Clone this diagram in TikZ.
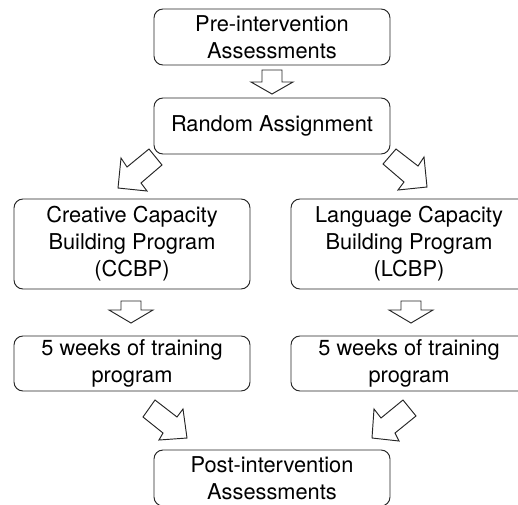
\documentclass[tikz,border=0pt]{standalone}
\usepackage{fontspec}
\setmainfont{TeX Gyre Heros}
\begin{document}
\begin{tikzpicture}[x=1pt,y=-1pt,
  box/.style={draw=black!85, line width=0.95pt, rounded corners=9pt, minimum width=236pt,
    align=center, inner sep=0pt, font=\fontsize{21.8}{27}\selectfont},
  barrow/.style={draw=black!85, line width=0.95pt, fill=white, line join=miter}]
\useasboundingbox (0,0) rectangle (518,504);
\clip (0,0) rectangle (518,504);
\node[box, minimum height=56pt] (pre) at (272,37) {Pre-intervention\\Assessments};
\node[box, minimum height=56pt] (rand) at (272,126) {Random Assignment};
\node[box, minimum height=90pt] (ccbp) at (132,244) {Creative Capacity\\Building Program\\(CCBP)};
\node[box, minimum height=90pt] (lcbp) at (409,244) {Language Capacity\\Building Program\\(LCBP)};
\node[box, minimum height=55pt] (trainA) at (132,363.5) {5 weeks of training\\program};
\node[box, minimum height=55pt] (trainB) at (409,363.5) {5 weeks of training\\program};
\node[box, minimum height=56pt] (post) at (272,478) {Post-intervention\\Assessments};
% block arrows
\draw[barrow] (262,70) -- (282,70) -- (282,82) -- (293,82) -- (272,94) -- (251,82) -- (262,82) -- cycle;
\draw[barrow] (149,149) -- (162,165) -- (141,183) -- (147,191) -- (118,188) -- (121,158) -- (127,167) -- cycle;
\draw[barrow] (396,149) -- (383,164) -- (404,182) -- (398,190) -- (427,187) -- (424,157) -- (418,166) -- cycle;
\draw[barrow] (121,301) -- (141,301) -- (141,310) -- (153,310) -- (131,323) -- (109,310) -- (121,310) -- cycle;
\draw[barrow] (401,301) -- (421,301) -- (421,310) -- (433,310) -- (411,323) -- (389,310) -- (401,310) -- cycle;
\draw[barrow] (155,400) -- (143,417) -- (163,433) -- (159,440) -- (187,438) -- (183,409) -- (177,417) -- cycle;
\draw[barrow] (403,400) -- (416,416) -- (395,433) -- (399,441) -- (372,438) -- (374,409) -- (381,418) -- cycle;
\end{tikzpicture}
\end{document}
